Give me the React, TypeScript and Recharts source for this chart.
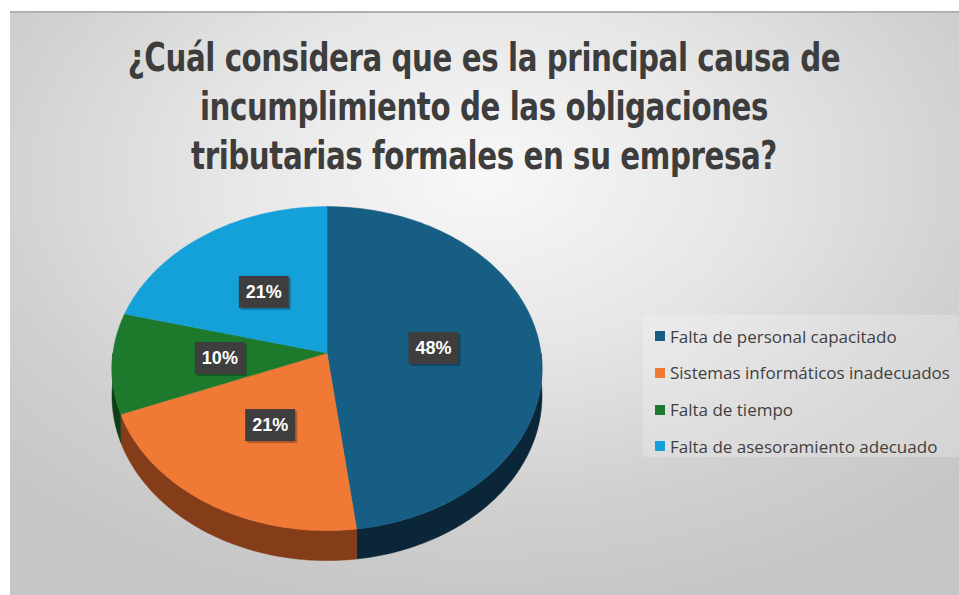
import React from 'react';
import { PieChart, Pie, Cell, Legend } from 'recharts';

// datos
const causas = [
    'Falta de personal capacitado',
    'Sistemas informáticos inadecuados',
    'Falta de tiempo',
    'Falta de asesoramiento adecuado',
];
const porcentajes = [48, 21, 10, 21];
const colores = ['#175e84', '#ef7935', '#1d7a2d', '#14a0d8'];
const coloresLado = ['#0a2638', '#843c19', '#0e3d16', '#0a5070'];
const tituloLineas = [
    '¿Cuál considera que es la principal causa de',
    'incumplimiento de las obligaciones',
    'tributarias formales en su empresa?',
];

const data = causas.map((name, i) => ({ name, value: porcentajes[i], fill: colores[i], side: coloresLado[i] }));

// "3D": disco inclinado con algo de perspectiva
const TILT = 0.75;
const PERSP = 10.4;
const DEPTH = 30;
const RAD = Math.PI / 180;

const project = (cx: number, cy: number, r: number, angle: number, frac: number) => {
    const X = frac * Math.cos(angle * RAD);
    const Y = -frac * Math.sin(angle * RAD);
    const f = PERSP / (PERSP - Y);
    return { x: cx + r * X * f, y: cy + r * TILT * Y * f, f };
};

const arcPoints = (cx: number, cy: number, r: number, a0: number, a1: number) => {
    const steps = Math.max(2, Math.ceil(Math.abs(a1 - a0)));
    const pts = [];
    for (let i = 0; i <= steps; i++) {
        pts.push(project(cx, cy, r, a0 + ((a1 - a0) * i) / steps, 1));
    }
    return pts;
};

const Sector3D = (props: any) => {
    const { cx, cy, outerRadius, startAngle, endAngle } = props;
    const fill = props.fill;
    const side = props.side ?? props.payload?.side ?? fill;
    const top = arcPoints(cx, cy, outerRadius, startAngle, endAngle);
    const topPath = `M${cx},${cy} ` + top.map(p => `L${p.x},${p.y}`).join(' ') + ' Z';

    // pared frontal: sólo la parte del arco en la mitad inferior
    const lo = Math.min(startAngle, endAngle);
    const hi = Math.max(startAngle, endAngle);
    const fMax = PERSP / (PERSP - 1);
    const walls: string[] = [];
    for (let k = -3; k <= 3; k++) {
        const a0 = Math.max(lo, -180 + 360 * k);
        const a1 = Math.min(hi, 360 * k);
        if (a1 > a0) {
            const pts = arcPoints(cx, cy, outerRadius, a0, a1);
            const upper = pts.map(p => `${p.x},${p.y}`);
            const lower = pts.slice().reverse().map(p => `${p.x},${p.y + DEPTH * (p.f / fMax)}`);
            walls.push('M' + upper.join(' L') + ' L' + lower.join(' L') + ' Z');
        }
    }

    return (
        <g>
            {walls.map((d, i) => <path key={i} d={d} fill={side} stroke={side} strokeWidth={0.5} />)}
            <path d={topPath} fill={fill} stroke={fill} strokeWidth={0.5} />
        </g>
    );
};

const renderLabel = (props: any) => {
    const { cx, cy, outerRadius, midAngle, percent } = props;
    const p = project(cx, cy, outerRadius, midAngle, 0.5);
    return (
        <g>
            <rect x={p.x - 23} y={p.y - 14} width={50} height={32} fill="rgba(0,0,0,0.25)" />
            <rect x={p.x - 25} y={p.y - 16} width={50} height={32} fill="#3e3e3e" />
            <text x={p.x} y={p.y + 6} textAnchor="middle" fill="#fff" fontSize={18} fontWeight="bold"
                fontFamily="'Liberation Sans', Arial, sans-serif">
                {Math.round(percent * 100)}%
            </text>
        </g>
    );
};

const renderLegend = (props: any) => {
    const items = (props.payload || []).slice().sort((a: any, b: any) => causas.indexOf(a.value) - causas.indexOf(b.value));
    return (
        <div style={{ position: 'relative', width: 316, height: 142, background: 'rgba(255,255,255,0.22)', borderRadius: 4 }}>
            {items.map((entry: any, i: number) => (
                <div key={entry.value} style={{ position: 'absolute', left: 12, top: 10 + i * 36.8, height: 22, display: 'flex', alignItems: 'center', whiteSpace: 'nowrap' }}>
                    <span style={{ display: 'inline-block', width: 10, height: 10, background: entry.color, marginRight: 5 }} />
                    <span style={{ fontFamily: "'Open Sans', sans-serif", fontSize: 17, color: '#404040' }}>{entry.value}</span>
                </div>
            ))}
        </div>
    );
};

export default function App() {
    return (
        <div style={{ position: 'absolute', left: 0, top: 0, width: 959, height: 595, background: '#fff', overflow: 'hidden' }}>
            <div style={{
                position: 'absolute', left: 10, top: 11, width: 949, height: 584,
                borderTop: '2px solid #b0b0b0',
                background: 'radial-gradient(ellipse 70% 75% at 50% 28%, #f8f8f8 0%, #e6e6e6 40%, #d0d0d0 75%, #c6c6c6 100%)',
            }} />
            {tituloLineas.map((t, i) => (
                <div key={i} style={{
                    position: 'absolute', left: 0, width: 968, top: 33 + i * 49, height: 49, lineHeight: '49px',
                    textAlign: 'center', fontFamily: "'DejaVu Sans Condensed', 'DejaVu Sans', sans-serif",
                    fontWeight: 'bold', fontSize: 39, color: '#3d3d3d', whiteSpace: 'nowrap',
                    transform: 'scaleX(0.835)', transformOrigin: '484px 50%', letterSpacing: -0.5,
                }}>{t}</div>
            ))}
            <div style={{ position: 'absolute', left: 0, top: 0 }}>
                <PieChart width={959} height={595} margin={{ top: 0, right: 0, bottom: 0, left: 0 }}>
                    <Pie
                        data={data}
                        dataKey="value"
                        nameKey="name"
                        cx={327}
                        cy={353}
                        outerRadius={214}
                        startAngle={90}
                        endAngle={-270}
                        isAnimationActive={false}
                        shape={Sector3D}
                        activeShape={Sector3D}
                        inactiveShape={Sector3D}
                        label={renderLabel}
                        labelLine={false}
                        stroke="none"
                    >
                        {data.map((d, i) => <Cell key={i} fill={d.fill} />)}
                    </Pie>
                    <Legend
                        layout="vertical"
                        align="right"
                        verticalAlign="middle"
                        content={renderLegend}
                        wrapperStyle={{ left: 643, top: 315, width: 316, height: 142 }}
                    />
                </PieChart>
            </div>
        </div>
    );
}
